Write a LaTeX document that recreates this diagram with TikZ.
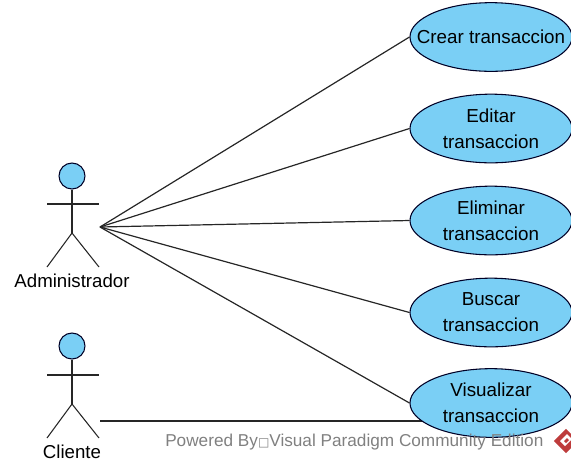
\documentclass[tikz,border=0pt]{standalone}
\usepackage{fontspec}
\setmainfont{Liberation Sans}
\newfontfamily\symbolfont{DejaVu Sans}
\usepackage{tikz}
\usetikzlibrary{shapes.geometric,calc}
\definecolor{caseblue}{RGB}{122,207,245}
\definecolor{markred}{RGB}{190,60,60}
\tikzset{
  usecase/.style={ellipse,draw=black!85!blue,thick,fill=caseblue,minimum width=121.5pt,minimum height=51.5pt,inner xsep=-30pt,inner ysep=0pt,align=center,font=\fontsize{14.1}{19.5}\selectfont},
  actorhead/.style={circle,draw=black!85!blue,thick,fill=caseblue,minimum size=19.5pt,inner sep=0pt},
  actorname/.style={font=\fontsize{14}{16}\selectfont},
  link/.style={draw=black!85,line width=0.9pt},
  limb/.style={draw=black!85,line width=0.8pt}
}
\begin{document}
\begin{tikzpicture}[x=0.75pt,y=-0.75pt]
\useasboundingbox (0,0) rectangle (571,462);
\coordinate (adminport) at (100,227);
\coordinate (clienteport) at (100,421);
\coordinate (visualcenter) at (491,403);
\draw[link] (clienteport) -- (clienteport -| visualcenter);

\node[usecase] (crear) at (491,37) {Crear transaccion};
\node[usecase] (editar) at (491,128.5) {Editar\\transaccion};
\node[usecase] (eliminar) at (491,220.5) {Eliminar\\transaccion};
\node[usecase] (buscar) at (491,312.5) {Buscar\\transaccion};
\node[usecase] (visualizar) at (visualcenter) {Visualizar\\transaccion};

\node[actorhead] (adminhead) at (72,176) {};
\coordinate (adminhip) at (72,233);
\draw[limb] (adminhead) -- (adminhip);
\draw[limb] (47,204) -- (99,204);
\draw[limb] (47,267) -- (adminhip) -- (99,267);
\node[actorname] (admin) at (72,281) {Administrador};

\node[actorhead] (clientehead) at (72,346) {};
\coordinate (clientehip) at (72,404);
\draw[limb] (clientehead) -- (clientehip);
\draw[limb] (47,375) -- (99,375);
\draw[limb] (47,438) -- (clientehip) -- (99,438);
\node[actorname] (cliente) at (72,452) {Cliente};

\draw[link] (adminport) -- (crear.west);
\draw[link] (adminport) -- (editar.west);
\draw[link] (adminport) -- (eliminar.west);
\draw[link] (adminport) -- (buscar.west);
\draw[link] (adminport) -- (visualizar.west);

\node[anchor=west,inner sep=0pt,text=black!50,font=\fontsize{12.9}{15}\selectfont] (powered) at (165,442) {Powered By{\symbolfont\fontsize{9}{15}\selectfont □}Visual Paradigm Community Edition};
\node[diamond,fill=markred,minimum size=18.5pt,inner sep=0pt] (logo) at (566,441) {};
\fill[white] (560,441) -- (567,434) -- (572,439) -- (566,445) -- (565,446) -- cycle;
\fill[markred] (564,441) -- (567,438) -- (569,440) -- (566,443) -- cycle;
\end{tikzpicture}
\end{document}
